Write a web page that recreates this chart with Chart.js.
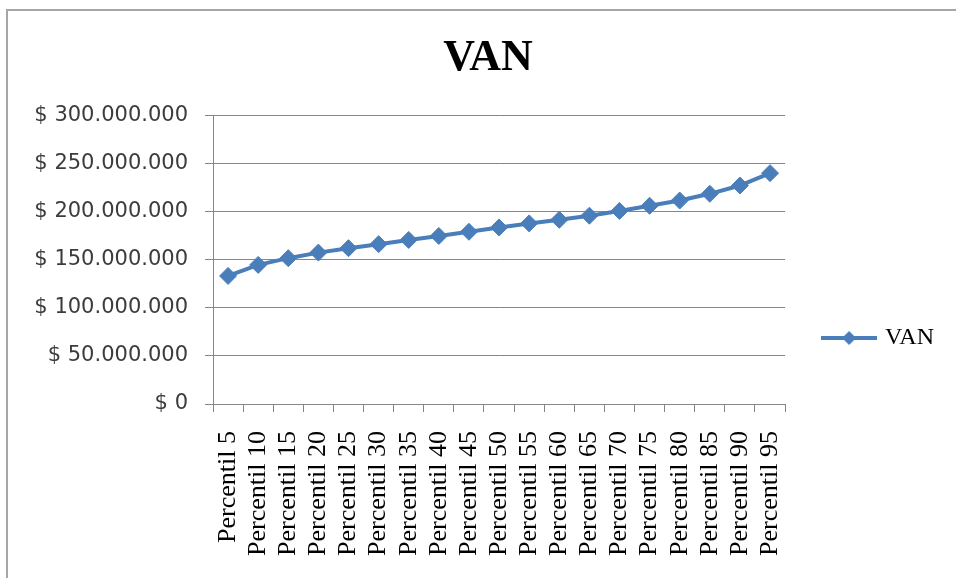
<!DOCTYPE html>
<html>
<head>
<meta charset="utf-8">
<script src="https://cdn.jsdelivr.net/npm/chart.js@4"></script>
<style>
  html, body { margin: 0; padding: 0; background: #fff; overflow: hidden; }
  #wrap { width: 956px; height: 578px; }
</style>
</head>
<body>
<div id="wrap"><canvas id="van-chart" width="956" height="578"></canvas></div>
<script>
// Chart data
const categories = [
    "Percentil 5", "Percentil 10", "Percentil 15", "Percentil 20", "Percentil 25",
    "Percentil 30", "Percentil 35", "Percentil 40", "Percentil 45", "Percentil 50",
    "Percentil 55", "Percentil 60", "Percentil 65", "Percentil 70", "Percentil 75",
    "Percentil 80", "Percentil 85", "Percentil 90", "Percentil 95"
];
const vanValues = [
    133300000, 144800000, 151800000, 157600000, 162200000,
    166400000, 170800000, 174900000, 179300000, 183700000,
    188000000, 191700000, 196000000, 201000000, 206300000,
    211800000, 218800000, 227400000, 240300000
];
const seriesName = "VAN";
const yTicks = [0, 50000000, 100000000, 150000000, 200000000, 250000000, 300000000];

const blue = "#4A7EBB";
const gray = "#868686";

// Format like "$ 300.000.000"
function formatPeso(value) {
    const s = String(Math.round(value)).replace(/\B(?=(\d{3})+(?!\d))/g, ".");
    return "$ " + s;
}

// Legend symbol: line with a diamond in the middle
function makeLegendSymbol() {
    const c = document.createElement("canvas");
    c.width = 56;
    c.height = 18;
    const g = c.getContext("2d");
    g.strokeStyle = blue;
    g.lineWidth = 4;
    g.beginPath();
    g.moveTo(0, 9);
    g.lineTo(56, 9);
    g.stroke();
    g.fillStyle = blue;
    g.beginPath();
    g.moveTo(28, 2);
    g.lineTo(35, 9);
    g.lineTo(28, 16);
    g.lineTo(21, 9);
    g.closePath();
    g.fill();
    return c;
}

// Outer frame of the chart
const framePlugin = {
    id: "frame",
    beforeDraw(chart) {
        const ctx = chart.ctx;
        ctx.save();
        ctx.strokeStyle = "#a6a6a6";
        ctx.lineWidth = 2;
        ctx.strokeRect(7, 10, 1200, 1200);
        ctx.restore();
    }
};

// Push the legend down to the middle of the whole chart, like Excel does
const legendShift = {
    id: "legendShift",
    afterLayout(chart) {
        if (chart.legend) {
            chart.legend.top += 53;
            chart.legend.bottom += 53;
        }
    }
};

const ctx = document.getElementById("van-chart").getContext("2d");

new Chart(ctx, {
    type: "line",
    data: {
        labels: categories,
        datasets: [{
            label: seriesName,
            data: vanValues,
            borderColor: blue,
            backgroundColor: blue,
            borderWidth: 4,
            pointStyle: "rectRot",
            pointRadius: 8.5,
            pointHoverRadius: 8.5,
            pointBackgroundColor: blue,
            pointBorderColor: blue,
            pointBorderWidth: 1,
            tension: 0
        }]
    },
    options: {
        responsive: false,
        animation: false,
        layout: {
            padding: { left: 32, right: 12, top: 0, bottom: 8 }
        },
        plugins: {
            title: {
                display: true,
                text: "VAN",
                color: "#000",
                font: { family: "Liberation Serif", size: 44, weight: "bold" },
                padding: { top: 32, bottom: 31 }
            },
            legend: {
                display: true,
                position: "right",
                labels: {
                    usePointStyle: true,
                    pointStyle: makeLegendSymbol(),
                    pointStyleWidth: 48,
                    padding: 40,
                    color: "#000",
                    font: { family: "Liberation Serif", size: 24 }
                }
            },
            tooltip: { enabled: false }
        },
        scales: {
            x: {
                offset: true,
                grid: {
                    offset: true,
                    drawOnChartArea: false,
                    tickLength: 8,
                    color: gray
                },
                border: { color: gray, width: 1 },
                ticks: {
                    autoSkip: false,
                    maxRotation: 90,
                    minRotation: 90,
                    padding: 19,
                    color: "#000",
                    font: { family: "Liberation Serif", size: 26 }
                },
                afterFit(scale) {
                    scale.height = 166;
                }
            },
            y: {
                min: 0,
                max: 300000000,
                afterBuildTicks(scale) {
                    scale.ticks = yTicks.map(v => ({ value: v }));
                },
                grid: {
                    tickLength: 8,
                    color: gray
                },
                border: { color: gray, width: 1 },
                ticks: {
                    padding: 17,
                    color: "#3c3c3c",
                    font: { family: "DejaVu Sans", size: 21 },
                    callback: value => formatPeso(value)
                },
                afterFit(scale) {
                    scale.width = 181;
                }
            }
        }
    },
    plugins: [framePlugin, legendShift]
});
</script>
</body>
</html>
